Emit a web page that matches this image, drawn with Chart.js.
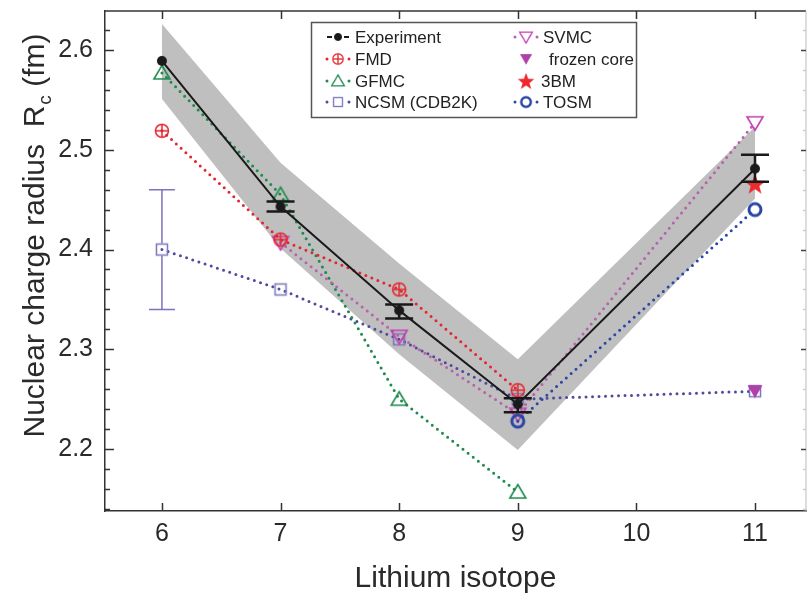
<!DOCTYPE html>
<html>
<head>
<meta charset="utf-8">
<script src="https://cdn.jsdelivr.net/npm/chart.js@4.4.1/dist/chart.umd.min.js"></script>
<style>
  body { margin: 0; background: #fff; }
  #wrap { width: 807px; height: 594px; }
</style>
</head>
<body>
<div id="wrap"><canvas id="myChart" width="807" height="594"></canvas></div>
<script>
// values
const isotopes = [6, 7, 8, 9, 11];
const expR  = [2.589, 2.443, 2.339, 2.245, 2.481];
const expLo = [null, 2.438, 2.331, 2.237, 2.468];
const expHi = [null, 2.448, 2.345, 2.251, 2.495];
const bandHi = [2.626, 2.487, 2.386, 2.290, 2.523];
const bandLo = [2.551, 2.401, 2.295, 2.199, 2.451];

const fmdX = [6, 7, 8, 9];
const fmdR = [2.519, 2.410, 2.360, 2.259];
const gfmcX = [6, 7, 8, 9];
const gfmcR = [2.577, 2.455, 2.250, 2.157];
const ncsmX = [6, 7, 8, 9, 11];
const ncsmR = [2.400, 2.360, 2.310, 2.250, 2.258];
const ncsmErr = [2.340, 2.460]; // at A=6
const svmcX = [7, 8, 9, 11];
const svmcR = [2.407, 2.313, 2.235, 2.527];
const frozenX = [11];
const frozenR = [2.258];
const bm3X = [11];
const bm3R = [2.466];
const tosmX = [9, 11];
const tosmR = [2.228, 2.440];

const xTicks = [6, 7, 8, 9, 10, 11];
const yTicks = [2.2, 2.3, 2.4, 2.5, 2.6];

const pts = (xs, ys) => xs.map((x, i) => ({ x: x, y: ys[i] }));
const FONT = '"Liberation Sans", Arial, sans-serif';

const col = {
  exp: '#1a1a1a', fmd: '#e3262f', gfmc: '#1f8a4d',
  ncsm: '#4f4a9c', ncsmMk: '#7a75bd', svmc: '#b663ad', svmcMk: '#c23fb0',
  frozen: '#b13fa9', bm3: '#ee2a2f', tosm: '#2b47a5', band: '#bfbfbf'
};

function icon(size, draw) {
  const c = document.createElement('canvas');
  c.width = size; c.height = size;
  const g = c.getContext('2d');
  draw(g, size / 2);
  return c;
}
const icons = {
  exp: icon(12, (g, m) => { g.fillStyle = col.exp; g.beginPath(); g.arc(m, m, 5, 0, Math.PI * 2); g.fill(); }),
  fmd: icon(18, (g, m) => {
    g.strokeStyle = col.fmd; g.lineWidth = 1.5;
    g.beginPath(); g.arc(m, m, 6.5, 0, Math.PI * 2); g.stroke();
    g.beginPath(); g.moveTo(m - 6.5, m); g.lineTo(m + 6.5, m); g.moveTo(m, m - 6.5); g.lineTo(m, m + 6.5); g.stroke();
  }),
  gfmc: icon(20, (g, m) => {
    g.strokeStyle = col.gfmc; g.lineWidth = 1.6;
    g.beginPath(); g.moveTo(m, m - 7.5); g.lineTo(m + 8, m + 6); g.lineTo(m - 8, m + 6); g.closePath(); g.stroke();
  }),
  ncsm: icon(16, (g, m) => { g.strokeStyle = col.ncsmMk; g.lineWidth = 1.5; g.strokeRect(m - 5.5, m - 5.5, 11, 11); }),
  svmc: icon(20, (g, m) => {
    g.strokeStyle = col.svmcMk; g.lineWidth = 1.6;
    g.beginPath(); g.moveTo(m, m + 7.5); g.lineTo(m + 8, m - 6); g.lineTo(m - 8, m - 6); g.closePath(); g.stroke();
  }),
  frozen: icon(18, (g, m) => {
    g.fillStyle = col.frozen;
    g.beginPath(); g.moveTo(m, m + 7); g.lineTo(m + 7.5, m - 6); g.lineTo(m - 7.5, m - 6); g.closePath(); g.fill();
  }),
  bm3: icon(24, (g, m) => {
    g.fillStyle = col.bm3; g.beginPath();
    for (let i = 0; i < 10; i++) {
      const r = i % 2 === 0 ? 11 : 4.5;
      const a = -Math.PI / 2 + i * Math.PI / 5;
      const px = m + r * Math.cos(a), py = m + 1 + r * Math.sin(a);
      if (i === 0) g.moveTo(px, py); else g.lineTo(px, py);
    }
    g.closePath(); g.fill();
  }),
  tosm: icon(18, (g, m) => { g.strokeStyle = col.tosm; g.lineWidth = 3; g.beginPath(); g.arc(m, m, 6, 0, Math.PI * 2); g.stroke(); })
};

function dotted(label, data, color, style) {
  return {
    label: label, data: data, borderColor: color, backgroundColor: color,
    borderWidth: 3, borderDash: [0, 6.5], borderCapStyle: 'round',
    pointStyle: style, pointRadius: 7, fill: false, tension: 0
  };
}

// no extra padding from tick labels, chart area is fixed by hand
function noPad(s) { s.paddingTop = 0; s.paddingBottom = 0; s.paddingLeft = 0; s.paddingRight = 0; }

const extras = {
  id: 'extras',
  afterDatasetsDraw(chart) {
    const { ctx, scales: { x, y } } = chart;
    ctx.save();
    // error bars
    ctx.strokeStyle = col.exp; ctx.lineWidth = 2.5;
    isotopes.forEach((v, i) => {
      if (expLo[i] == null) return;
      const px = x.getPixelForValue(v), lo = y.getPixelForValue(expLo[i]), hi = y.getPixelForValue(expHi[i]);
      ctx.beginPath();
      ctx.moveTo(px, lo); ctx.lineTo(px, hi);
      ctx.moveTo(px - 14, lo); ctx.lineTo(px + 14, lo);
      ctx.moveTo(px - 14, hi); ctx.lineTo(px + 14, hi);
      ctx.stroke();
    });
    ctx.strokeStyle = col.ncsmMk; ctx.lineWidth = 1.5;
    const nx = x.getPixelForValue(ncsmX[0]), n1 = y.getPixelForValue(ncsmErr[0]), n2 = y.getPixelForValue(ncsmErr[1]);
    const nm = y.getPixelForValue(ncsmR[0]);
    ctx.beginPath();
    ctx.moveTo(nx, n1); ctx.lineTo(nx, nm + 6);
    ctx.moveTo(nx, nm - 6); ctx.lineTo(nx, n2);
    ctx.moveTo(nx - 13, n1); ctx.lineTo(nx + 13, n1);
    ctx.moveTo(nx - 13, n2); ctx.lineTo(nx + 13, n2);
    ctx.stroke();
    ctx.restore();
  },
  afterDraw(chart) {
    const { ctx, chartArea: a, scales: { x, y } } = chart;
    ctx.save();
    // frame top and right
    ctx.strokeStyle = '#333'; ctx.lineWidth = 1.5;
    ctx.beginPath(); ctx.moveTo(a.left, a.top); ctx.lineTo(a.right, a.top); ctx.stroke();
    ctx.strokeStyle = '#bbb'; ctx.lineWidth = 1;
    ctx.beginPath(); ctx.moveTo(a.right, a.top); ctx.lineTo(a.right, a.bottom); ctx.stroke();
    // inward ticks
    ctx.lineWidth = 1.5;
    for (let k = 107; k <= 131; k++) {
      const py = Math.round(y.getPixelForValue(k * 0.02)) + 0.5;
      const major = k % 5 === 0;
      ctx.strokeStyle = '#333';
      ctx.beginPath(); ctx.moveTo(a.left, py); ctx.lineTo(a.left + (major ? 9 : 5), py); ctx.stroke();
      ctx.strokeStyle = major ? '#444' : '#ccc';
      ctx.beginPath(); ctx.moveTo(a.right, py); ctx.lineTo(a.right - (major ? 5 : 3), py); ctx.stroke();
    }
    ctx.strokeStyle = '#333';
    xTicks.forEach(v => {
      const px = Math.round(x.getPixelForValue(v)) + 0.5;
      ctx.beginPath();
      ctx.moveTo(px, a.bottom); ctx.lineTo(px, a.bottom - 8);
      ctx.moveTo(px, a.top); ctx.lineTo(px, a.top + 8);
      ctx.stroke();
    });
    // y title with subscript
    ctx.fillStyle = '#2a2a2a';
    ctx.translate(36, 236);
    ctx.rotate(-Math.PI / 2);
    const big = '30px ' + FONT, small = '19px ' + FONT;
    const t1 = 'Nuclear charge radius  R', t2 = 'c', t3 = ' (fm)';
    ctx.font = big; const w1 = ctx.measureText(t1).width, w3 = ctx.measureText(t3).width;
    ctx.font = small; const w2 = ctx.measureText(t2).width;
    let sx = -(w1 + w2 + w3) / 2;
    ctx.textBaseline = 'middle'; ctx.textAlign = 'left';
    ctx.font = big; ctx.fillText(t1, sx, 0); sx += w1;
    ctx.font = small; ctx.fillText(t2, sx + 1, 10); sx += w2 + 1;
    ctx.font = big; ctx.fillText(t3, sx, 0);
    ctx.setTransform(1, 0, 0, 1, 0, 0);
    // legend
    ctx.fillStyle = '#fff';
    ctx.fillRect(312, 23, 324, 94);
    ctx.strokeStyle = '#555'; ctx.lineWidth = 1.5;
    ctx.strokeRect(311.5, 22.5, 325, 95);
    const rows = [37, 59, 81, 102];
    const leg = [
      { t: 'Experiment', ic: icons.exp, c: col.exp, mx: 338, tx: 355, r: 0, solid: true },
      { t: 'FMD', ic: icons.fmd, c: col.fmd, mx: 338, tx: 355, r: 1 },
      { t: 'GFMC', ic: icons.gfmc, c: col.gfmc, mx: 338, tx: 355, r: 2 },
      { t: 'NCSM (CDB2K)', ic: icons.ncsm, c: col.ncsm, mx: 338, tx: 355, r: 3 },
      { t: 'SVMC', ic: icons.svmc, c: col.svmc, mx: 526, tx: 543, r: 0 },
      { t: 'frozen core', ic: icons.frozen, c: null, mx: 526, tx: 549, r: 1 },
      { t: '3BM', ic: icons.bm3, c: null, mx: 526, tx: 541, r: 2 },
      { t: 'TOSM', ic: icons.tosm, c: col.tosm, mx: 526, tx: 543, r: 3 }
    ];
    ctx.font = '17px ' + FONT;
    ctx.textBaseline = 'middle'; ctx.textAlign = 'left';
    leg.forEach(e => {
      const cy = rows[e.r];
      if (e.solid) {
        ctx.strokeStyle = e.c; ctx.lineWidth = 2;
        ctx.beginPath(); ctx.moveTo(e.mx - 11, cy); ctx.lineTo(e.mx - 6, cy); ctx.moveTo(e.mx + 6, cy); ctx.lineTo(e.mx + 11, cy); ctx.stroke();
      } else if (e.c) {
        ctx.fillStyle = e.c;
        [-11, 11].forEach(d => { ctx.beginPath(); ctx.arc(e.mx + d, cy, 1.5, 0, Math.PI * 2); ctx.fill(); });
      }
      const w = e.ic.width * 0.8;
      ctx.drawImage(e.ic, e.mx - w / 2, cy - w / 2, w, w);
      ctx.fillStyle = '#222';
      ctx.fillText(e.t, e.tx, cy + 1);
    });
    ctx.restore();
  }
};

const chartElement = document.getElementById('myChart');
new Chart(chartElement, {
  type: 'line',
  data: {
    datasets: [
      { label: '3BM', data: pts(bm3X, bm3R), showLine: false, pointStyle: icons.bm3, pointRadius: 10 },
      { label: 'frozen core', data: pts(frozenX, frozenR), showLine: false, pointStyle: icons.frozen, pointRadius: 8 },
      dotted('TOSM', pts(tosmX, tosmR), col.tosm, icons.tosm),
      { label: 'Experiment', data: pts(isotopes, expR), borderColor: col.exp, backgroundColor: col.exp,
        borderWidth: 2, pointStyle: icons.exp, pointRadius: 6, fill: false },
      dotted('FMD', pts(fmdX, fmdR), col.fmd, icons.fmd),
      dotted('SVMC', pts(svmcX, svmcR), col.svmc, icons.svmc),
      dotted('GFMC', pts(gfmcX, gfmcR), col.gfmc, icons.gfmc),
      dotted('NCSM (CDB2K)', pts(ncsmX, ncsmR), col.ncsm, icons.ncsm),
      { label: 'band', data: pts(isotopes, bandHi), borderWidth: 0, pointRadius: 0, borderColor: 'rgba(0,0,0,0)',
        backgroundColor: col.band, fill: '+1' },
      { label: 'bandLo', data: pts(isotopes, bandLo), borderWidth: 0, pointRadius: 0, borderColor: 'rgba(0,0,0,0)', fill: false }
    ]
  },
  options: {
    responsive: false,
    animation: false,
    devicePixelRatio: 1,
    layout: { autoPadding: false, padding: { top: 11, right: 1, left: 0, bottom: 0 } },
    plugins: { legend: { display: false }, tooltip: { enabled: false } },
    scales: {
      x: {
        type: 'linear', min: 5.52, max: 11.43,
        afterBuildTicks: s => { s.ticks = xTicks.map(v => ({ value: v })); },
        afterFit: s => { s.height = 83; noPad(s); },
        grid: { display: false, drawTicks: false },
        border: { display: true, color: '#333', width: 1.5 },
        ticks: { color: '#2a2a2a', padding: 8, font: { size: 25, family: FONT } },
        title: { display: true, text: 'Lithium isotope', color: '#2a2a2a', padding: { top: 0, bottom: -3 },
          font: { size: 30, family: FONT } }
      },
      y: {
        min: 2.138, max: 2.639,
        afterBuildTicks: s => { s.ticks = yTicks.map(v => ({ value: v })); },
        afterFit: s => { s.width = 105; noPad(s); },
        grid: { display: false, drawTicks: false },
        border: { display: true, color: '#333', width: 1.5 },
        ticks: { color: '#2a2a2a', padding: 12, callback: v => v.toFixed(1), font: { size: 25, family: FONT } }
      }
    }
  },
  plugins: [extras]
});
</script>
</body>
</html>
